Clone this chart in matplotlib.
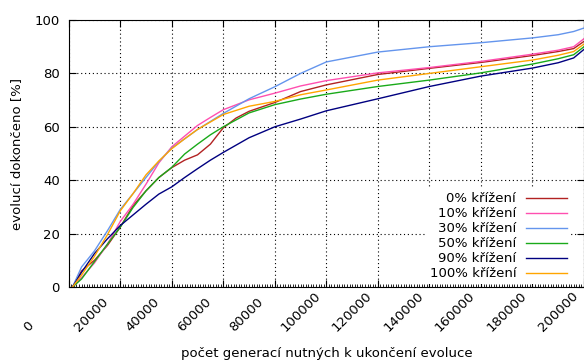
import matplotlib
matplotlib.use('Agg')
import matplotlib.pyplot as plt
import matplotlib.transforms as mtransforms

# pocet generaci (osa x)
gen = [1500, 5000, 10000, 15000, 20000, 25000, 30000, 35000, 40000, 45000, 50000,
       55000, 60000, 70000, 80000, 90000, 100000, 120000, 140000, 160000, 180000,
       190000, 196000, 200000]

# 0 % krizeni ma v okoli 55000 vlnku, proto vlastni x
gen_0 = [1500, 5000, 10000, 15000, 20000, 25000, 30000, 35000, 40000, 45000, 50000,
         55000, 58000, 60000, 65000, 70000, 80000, 90000, 100000, 120000, 140000,
         160000, 180000, 190000, 196000, 200000]

kriz_0 = [0, 6, 10, 15.5, 22.4, 30.5, 36, 41, 44.7, 47.5, 49.5,
          53.5, 57.2, 59.6, 63.3, 65.8, 69.1, 73.2, 75.7, 79.6, 81.9,
          84.1, 86.7, 88.2, 89.3, 92]
kriz_10 = [0, 3.5, 9, 16, 24.5, 31, 38.5, 46.5, 52.5, 56.5, 60.5,
           63.5, 66.4, 70.1, 72.6, 75.3, 77.3, 80.2, 82.2, 84.5, 87.2,
           88.7, 90, 93]
kriz_30 = [0, 7.5, 13.5, 21, 29, 35, 41, 47, 52, 55.5, 59,
           62, 65, 70.5, 75, 80, 84.3, 88, 90, 91.5, 93.3,
           94.5, 95.7, 97]
kriz_50 = [0, 3, 9.5, 16, 22.4, 29.8, 36, 41, 44.8, 49.8, 53.5,
           57, 60, 65.2, 68.3, 70.4, 72.2, 75.1, 77.5, 80.2, 83.5,
           85.5, 87, 90]
kriz_90 = [0, 5.5, 12.5, 18, 23, 27, 31, 34.8, 37.5, 41, 44.3,
           47.5, 50.4, 55.9, 60, 62.9, 66, 70.5, 75.1, 79, 82,
           84, 85.8, 89]
kriz_100 = [0, 4.5, 11.5, 19.5, 28.5, 35, 42, 47.2, 51.8, 55.5, 59,
            61.8, 64.6, 67.7, 69.5, 72, 73.8, 77.5, 80, 82.5, 85,
            86.8, 88.2, 91]

xticks = [0, 20000, 40000, 60000, 80000, 100000, 120000, 140000, 160000, 180000, 200000]
yticks = [0, 20, 40, 60, 80, 100]

fs = 9.5

fig = plt.figure(figsize=(5.84, 3.6), dpi=100)
ax = fig.add_axes([0.1176, 0.2028, 0.8824, 0.7416])

ax.plot(gen_0, kriz_0, color='#b22222', lw=1, label='0% křížení')
ax.plot(gen, kriz_10, color='#ff4fb0', lw=1, label='10% křížení')
ax.plot(gen, kriz_30, color='#6495ed', lw=1, label='30% křížení')
ax.plot(gen, kriz_50, color='#1aaa1a', lw=1, label='50% křížení')
ax.plot(gen, kriz_90, color='#000080', lw=1, label='90% křížení')
ax.plot(gen, kriz_100, color='#ffa500', lw=1, label='100% křížení')

ax.set_xlim(0, 200000)
ax.set_ylim(0, 100)
ax.set_yticks(yticks)
ax.set_xticks(xticks)
ax.set_xticklabels([])
ax.set_xticks(range(0, 200001, 1000), minor=True)
ax.tick_params(which='major', direction='in', length=5, width=0.8,
               top=True, right=True, labelsize=fs, pad=6.5)
ax.tick_params(which='minor', axis='x', direction='in', length=2, width=0.6, top=False)
ax.grid(True, which='major', color='black', ls=(0, (1, 2.5)), lw=0.8)

# popisky osy x otocene o 45 stupnu
off = mtransforms.ScaledTranslation(-0.41, -0.45, fig.dpi_scale_trans)
for t in xticks:
    ax.text(t, 0, str(t), transform=ax.get_xaxis_transform() + off,
            rotation=45, rotation_mode='anchor', ha='left', va='baseline',
            fontsize=fs, clip_on=False)

ax.set_xlabel('počet generací nutných k ukončení evoluce', fontsize=fs)
ax.xaxis.set_label_coords(0.5, -0.225)
ax.set_ylabel('evolucí dokončeno [%]', fontsize=fs)
ax.yaxis.set_label_coords(-0.088, 0.5)

leg = ax.legend(loc='lower right', bbox_to_anchor=(0.975, 0.01), markerfirst=False,
                fontsize=fs, handlelength=3.1, handletextpad=0.76, labelspacing=0.15,
                borderaxespad=0, borderpad=0.3, fancybox=False, framealpha=1)
leg.get_frame().set_edgecolor('white')
leg.get_frame().set_linewidth(0)

fig.savefig('out.png', dpi=100)
